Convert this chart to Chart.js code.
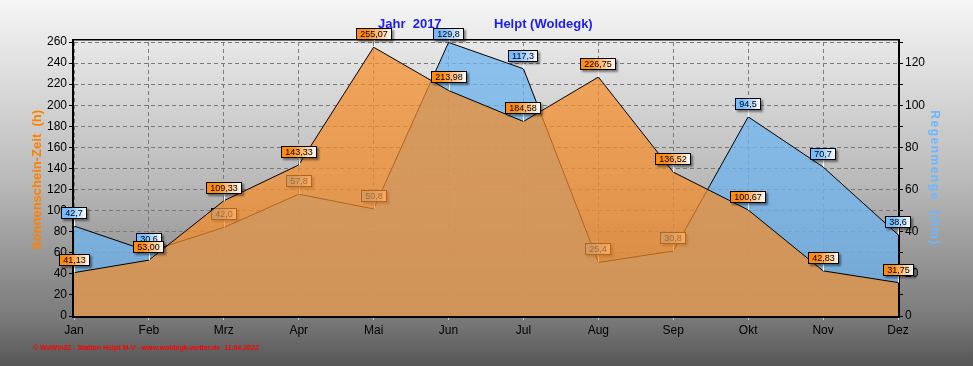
<!DOCTYPE html>
<html>
<head>
<meta charset="utf-8">
<script src="https://cdn.jsdelivr.net/npm/chart.js@4"></script>
<style>
  body { margin: 0; background: #fff; }
  #wrap { width: 973px; height: 366px; }
</style>
</head>
<body>
<div id="wrap"><canvas id="chart" width="973" height="366"></canvas></div>
<script>
// chart data
const months = ["Jan", "Feb", "Mrz", "Apr", "Mai", "Jun", "Jul", "Aug", "Sep", "Okt", "Nov", "Dez"];
const sunHours = [41.13, 53.00, 109.33, 143.33, 255.07, 213.98, 184.58, 226.75, 136.52, 100.67, 42.83, 31.75];
const rainMm = [42.7, 30.6, 42.0, 57.8, 50.8, 129.8, 117.3, 25.4, 30.8, 94.5, 70.7, 38.6];
const sunAxisMax = 260;
const rainAxisMax = 130;

const FONT = '"Liberation Sans", Arial, sans-serif';

// little value boxes above the points
function drawBadge(ctx, x, y, text, color) {
    ctx.save();
    ctx.font = "9px " + FONT;
    const w = Math.round(ctx.measureText(text).width) + 8;
    const h = 12;
    let top = Math.round(y) - 7 - h;
    if (top < 28) top = 28;
    const left = Math.round(x - w / 2);

    if (top + h < y) {
        ctx.strokeStyle = "#ffffff";
        ctx.lineWidth = 1;
        ctx.beginPath();
        ctx.moveTo(Math.round(x) + 0.5, y);
        ctx.lineTo(Math.round(x) + 0.5, top + h);
        ctx.stroke();
    }

    const grad = ctx.createLinearGradient(left, 0, left + w, 0);
    grad.addColorStop(0, color);
    grad.addColorStop(0.3, color);
    grad.addColorStop(1, "#ffffff");
    ctx.shadowColor = "rgba(0,0,0,0.45)";
    ctx.shadowOffsetX = 2;
    ctx.shadowOffsetY = 2;
    ctx.shadowBlur = 2;
    ctx.fillStyle = grad;
    ctx.fillRect(left, top, w, h);
    ctx.shadowColor = "transparent";
    ctx.strokeStyle = "#000000";
    ctx.strokeRect(left + 0.5, top + 0.5, w - 1, h - 1);
    ctx.fillStyle = "#000000";
    ctx.textAlign = "center";
    ctx.textBaseline = "middle";
    ctx.fillText(text, left + w / 2, top + h / 2 + 0.5);
    ctx.restore();
}

const decoPlugin = {
    id: "deco",
    beforeDraw(chart) {
        const ctx = chart.ctx;
        const bg = ctx.createLinearGradient(0, 0, 0, chart.height);
        bg.addColorStop(0, "#f6f6f6");
        bg.addColorStop(0.08, "#ececec");
        bg.addColorStop(0.5, "#b9b9b9");
        bg.addColorStop(0.87, "#7a7a7a");
        bg.addColorStop(1, "#565656");
        ctx.save();
        ctx.fillStyle = bg;
        ctx.fillRect(0, 0, chart.width, chart.height);
        ctx.restore();
    },
    beforeDatasetsDraw(chart) {
        // frame round the plot
        const { ctx, chartArea: a } = chart;
        ctx.save();
        ctx.fillStyle = "#000000";
        ctx.fillRect(a.left - 2, 39, 2, a.bottom - 39 + 2);
        ctx.fillRect(a.right, 39, 2, a.bottom - 39 + 2);
        ctx.fillRect(a.left - 2, a.bottom, a.right - a.left + 4, 2);
        ctx.fillRect(a.left - 2, 39, a.right - a.left + 4, 1.5);
        ctx.restore();
    },
    afterDatasetDraw(chart, args) {
        const ctx = chart.ctx;
        const meta = args.meta;
        const isSun = args.index === 0;
        const values = isSun ? sunHours : rainMm;
        meta.data.forEach((pt, i) => {
            const txt = values[i].toFixed(isSun ? 2 : 1).replace(".", ",");
            drawBadge(ctx, pt.x, pt.y, txt, isSun ? "#ff8a10" : "#74bbff");
        });
    },
    afterDraw(chart) {
        const ctx = chart.ctx;
        ctx.save();
        // title
        ctx.font = "bold 13px " + FONT;
        ctx.fillStyle = "#1c1cf5";
        ctx.textBaseline = "middle";
        ctx.textAlign = "left";
        ctx.fillText("Jahr  2017", 378, 24);
        ctx.fillText("Helpt (Woldegk)", 494, 24);

        // axis titles
        ctx.save();
        ctx.translate(37, 180);
        ctx.rotate(-Math.PI / 2);
        ctx.textAlign = "center";
        ctx.fillStyle = "#ff8000";
        ctx.font = "bold 13px " + FONT;
        ctx.fillText("Sonnenschein-Zeit  (h)", 0, 0);
        ctx.restore();

        ctx.save();
        ctx.translate(934, 178);
        ctx.rotate(Math.PI / 2);
        ctx.textAlign = "center";
        ctx.fillStyle = "#6cb6ff";
        ctx.font = "bold 12px " + FONT;
        ctx.letterSpacing = "1.5px";
        ctx.fillText("Regenmenge  (mm)", 0, 0);
        ctx.restore();

        // footnote
        ctx.font = "bold 7px " + FONT;
        ctx.fillStyle = "#ff0000";
        ctx.textAlign = "left";
        ctx.fillText("\u00a9 WsWin32 - Station Helpt M-V - www.woldegk-wetter.de  11.04.2022", 33, 348);
        ctx.restore();
    }
};

new Chart(document.getElementById("chart").getContext("2d"), {
    type: "line",
    data: {
        labels: months,
        datasets: [
            {
                label: "Sonnenschein-Zeit (h)",
                data: sunHours,
                yAxisID: "y",
                fill: "origin",
                backgroundColor: "rgba(245,140,40,0.72)",
                borderColor: "#000000",
                borderWidth: 1,
                pointRadius: 0,
                tension: 0,
                clip: 0,
            },
            {
                label: "Regenmenge (mm)",
                data: rainMm,
                yAxisID: "y1",
                fill: "origin",
                backgroundColor: "rgba(110,180,240,0.75)",
                borderColor: "#000000",
                borderWidth: 1,
                pointRadius: 0,
                tension: 0,
                clip: 0,
            },
        ],
    },
    options: {
        responsive: false,
        animation: false,
        events: [],
        layout: { padding: { top: 42, left: 0, right: 0, bottom: 0 } },
        plugins: { legend: { display: false }, tooltip: { enabled: false } },
        scales: {
            x: {
                offset: false,
                afterFit: (s) => { s.height = 50; },
                grid: { color: "#7a7a7a", tickColor: "#cfcfcf", tickLength: 4 },
                border: { display: false, dash: [4, 3] },
                ticks: { color: "#000", font: { size: 12, family: FONT }, padding: 3, maxRotation: 0 },
            },
            y: {
                position: "left",
                min: 0,
                max: sunAxisMax,
                afterFit: (s) => { s.width = 74; },
                grid: { color: "#7a7a7a", tickColor: "#000", tickLength: 5 },
                border: { display: false, dash: [4, 3] },
                ticks: { stepSize: 20, color: "#000", font: { size: 12, family: FONT }, padding: 2 },
            },
            y1: {
                position: "right",
                min: 0,
                max: rainAxisMax,
                afterFit: (s) => { s.width = 75; },
                grid: { drawOnChartArea: false, tickColor: "#000", tickLength: 5 },
                border: { display: false },
                ticks: {
                    stepSize: 10,
                    autoSkip: false,
                    color: "#000",
                    font: { size: 12, family: FONT },
                    padding: 2,
                    callback: (v) => (v % 20 === 0 && v <= 120 ? v : ""),
                },
            },
        },
    },
    plugins: [decoPlugin],
});
</script>
</body>
</html>
